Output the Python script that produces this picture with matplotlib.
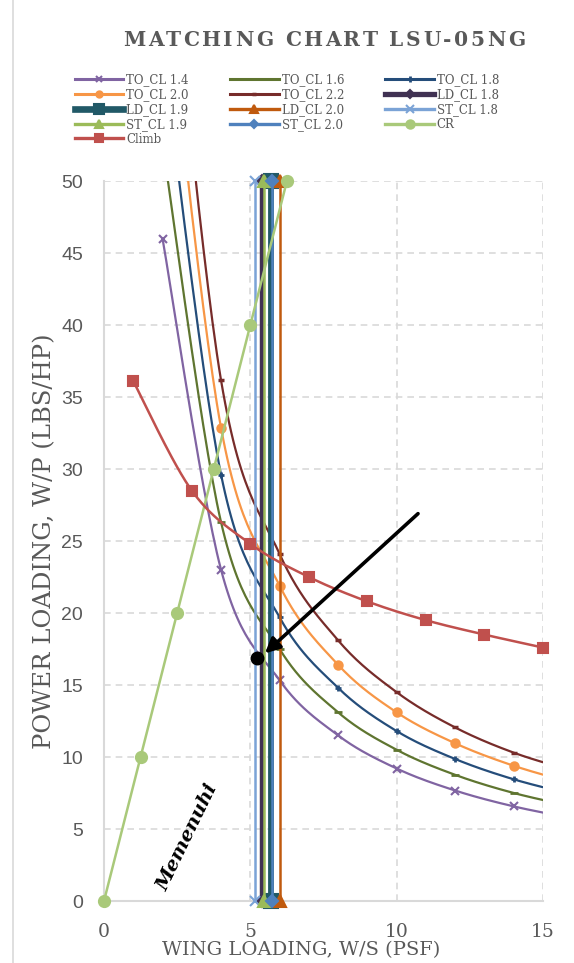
import numpy as np
import matplotlib
matplotlib.use('Agg')
import matplotlib.pyplot as plt
from matplotlib.font_manager import FontProperties
from matplotlib.textpath import TextToPath
from matplotlib.lines import Line2D

# data
to_ws = [2, 4, 6, 8, 10, 12, 14, 16]
to_cl14 = [46.0, 23.0, 15.33, 11.5, 9.2, 7.67, 6.57, 5.75]
to_cl16 = [52.6, 26.3, 17.5, 13.1, 10.5, 8.76, 7.5, 6.57]
to_cl18 = [59.2, 29.6, 19.7, 14.8, 11.8, 9.86, 8.45, 7.4]
to_cl20 = [65.7, 32.85, 21.9, 16.4, 13.1, 10.95, 9.39, 8.21]
to_cl22 = [72.3, 36.15, 24.1, 18.1, 14.5, 12.05, 10.3, 9.04]

ld_cl18 = 5.40
ld_cl19 = 5.70
ld_cl20 = 6.02
st_cl18 = 5.17
st_cl19 = 5.46
st_cl20 = 5.74
vert_y = [0, 50]

cr_ws = [0, 1.25, 2.5, 3.75, 5.0, 6.25]
cr_wp = [0, 10, 20, 30, 40, 50]

climb_ws = [1, 3, 5, 7, 9, 11, 13, 15]
climb_wp = [36.1, 28.5, 24.8, 22.5, 20.8, 19.5, 18.5, 17.6]

design_pt = (5.24, 16.85)
arrow_tail = (10.73, 26.9)
arrow_tip = (5.5, 17.2)

GREY = '#595959'
SERIF = 'DejaVu Serif'


def smooth(x, y, n=30):
    # Excel-style smoothed line (Catmull-Rom Bezier) through the points
    x = np.asarray(x, float)
    y = np.asarray(y, float)
    px = np.concatenate([[x[0]], x, [x[-1]]])
    py = np.concatenate([[y[0]], y, [y[-1]]])
    xs, ys = [], []
    t = np.linspace(0, 1, n)
    for i in range(1, len(px) - 2):
        p0 = np.array([px[i], py[i]])
        p3 = np.array([px[i + 1], py[i + 1]])
        c1 = p0 + (p3 - np.array([px[i - 1], py[i - 1]])) / 6
        c2 = p3 - (np.array([px[i + 2], py[i + 2]]) - p0) / 6
        b = ((1 - t) ** 3)[:, None] * p0 + (3 * (1 - t) ** 2 * t)[:, None] * c1 \
            + (3 * (1 - t) * t ** 2)[:, None] * c2 + (t ** 3)[:, None] * p3
        xs.append(b[:, 0])
        ys.append(b[:, 1])
    return np.concatenate(xs), np.concatenate(ys)


fig = plt.figure(figsize=(5.74, 9.63), dpi=100)
ax = fig.add_axes([104 / 574, 1 - 901 / 963, 439 / 574, 720 / 963])

handles = []


def curve(x, y, color, marker, label, ms=6, lw=1.6, mew=1.5, smooth_it=True, clip=True, z=2):
    if smooth_it:
        sx, sy = smooth(x, y)
    else:
        sx, sy = x, y
    ax.plot(sx, sy, color=color, lw=lw, clip_on=clip, zorder=z, solid_capstyle='butt')
    ax.plot(x, y, ls='none', marker=marker, color=color, ms=ms, mew=mew, clip_on=clip, zorder=z)
    handles.append(Line2D([], [], color=color, lw=lw + 0.6, marker=marker, ms=ms * 0.75,
                          mew=mew, label=label))


curve(to_ws, to_cl14, '#8064A2', 'x', 'TO_CL 1.4', ms=6)
curve(to_ws, to_cl16, '#5F7530', '_', 'TO_CL 1.6', ms=6, mew=2)
curve(to_ws, to_cl18, '#254D7A', '+', 'TO_CL 1.8', ms=5, mew=2)
curve(to_ws, to_cl20, '#F79646', 'o', 'TO_CL 2.0', ms=6)
curve(to_ws, to_cl22, '#772C2A', '_', 'TO_CL 2.2', ms=4, mew=2.5)

curve([ld_cl18] * 2, vert_y, '#403152', 'D', 'LD_CL 1.8', ms=6, lw=3.2, smooth_it=False, clip=False, z=3)
curve([ld_cl19] * 2, vert_y, '#215967', 's', 'LD_CL 1.9', ms=10, lw=4.2, smooth_it=False, clip=False, z=3)
curve([ld_cl20] * 2, vert_y, '#C05A0E', '^', 'LD_CL 2.0', ms=8, lw=1.8, smooth_it=False, clip=False, z=3)
curve([st_cl18] * 2, vert_y, '#7BA3D6', 'x', 'ST_CL 1.8', ms=7, lw=1.8, smooth_it=False, clip=False, z=3)
curve([st_cl19] * 2, vert_y, '#9BBB59', '^', 'ST_CL 1.9', ms=8, lw=1.8, smooth_it=False, clip=False, z=3)
curve([st_cl20] * 2, vert_y, '#4F81BD', 'D', 'ST_CL 2.0', ms=6, lw=1.8, smooth_it=False, clip=False, z=3)

curve(cr_ws, cr_wp, '#A9C97A', 'o', 'CR', ms=8, lw=1.8, smooth_it=False, clip=False, z=4)
curve(climb_ws, climb_wp, '#C0504D', 's', 'Climb', ms=7, lw=1.8, clip=False, z=4)

ax.plot(*design_pt, 'o', color='black', ms=9, zorder=6)
ax.annotate('', xy=arrow_tip, xytext=arrow_tail,
            arrowprops=dict(arrowstyle='-|>', color='black', lw=2.6, mutation_scale=22,
                            shrinkA=0, shrinkB=0), zorder=6)

ax.text(2.85, 4.4, 'Memenuhi', rotation=64, ha='center', va='center', fontsize=14,
        family=SERIF, fontweight='bold', fontstyle='italic', color='black', zorder=6)

ax.set_xlim(0, 15)
ax.set_ylim(0, 50)
ax.set_xticks([0, 5, 10, 15])
ax.set_yticks(np.arange(0, 51, 5))
ax.grid(True, color='#D9D9D9', lw=1.2, ls=(0, (4, 3)))
ax.set_axisbelow(True)
for s in ['top', 'right']:
    ax.spines[s].set_visible(False)
for s in ['left', 'bottom']:
    ax.spines[s].set_color('#D9D9D9')
    ax.spines[s].set_linewidth(1.5)
ax.tick_params(axis='x', length=0, pad=16)
ax.tick_params(axis='y', length=0, pad=15)
for lab in ax.get_xticklabels():
    lab.set_family(SERIF)
    lab.set_fontsize(13.5)
    lab.set_color(GREY)
for lab in ax.get_yticklabels():
    lab.set_family('Liberation Sans')
    lab.set_fontsize(14)
    lab.set_color(GREY)
ax.set_xlabel('WING LOADING, W/S (PSF)', family=SERIF, fontsize=14, color=GREY, labelpad=1)
ax.xaxis.set_label_coords(0.45, -0.055)
ax.set_ylabel('POWER LOADING, W/P (LBS/HP)', family=SERIF, fontsize=17.5, color=GREY, labelpad=4)

# legend, filled row by row like the original
order = [0, 3, 6, 9, 12, 1, 4, 7, 10, 2, 5, 8, 11]
leg = fig.legend([handles[i] for i in order], [handles[i].get_label() for i in order],
                 loc='upper left', bbox_to_anchor=(75 / 574, 1 - 73 / 963), ncol=3,
                 frameon=False, handlelength=4.1, handletextpad=0.25, columnspacing=3.5,
                 labelspacing=0.16, borderpad=0, borderaxespad=0,
                 prop=FontProperties(family=SERIF, size=8.5))
for t in leg.get_texts():
    t.set_color(GREY)

# letter-spaced title
title = 'MATCHING CHART LSU-05NG'
fp = FontProperties(family=SERIF, weight='bold', size=14.5)
ttp = TextToPath()
w = [ttp.get_text_width_height_descent(c, fp, ismath=False)[0] * 100 / 72 for c in title]
x0, x1 = 123, 525
gap = (x1 - x0 - sum(w)) / (len(title) - 1)
xp = x0
for c, cw in zip(title, w):
    fig.text(xp / 574, 1 - 46 / 963, c, fontproperties=fp, color=GREY, ha='left', va='baseline')
    xp += cw + gap

# chart area border on the left
fig.add_artist(Line2D([13 / 574, 13 / 574], [0, 1], color='#D9D9D9', lw=1.2))

fig.savefig('out.png', dpi=100)
